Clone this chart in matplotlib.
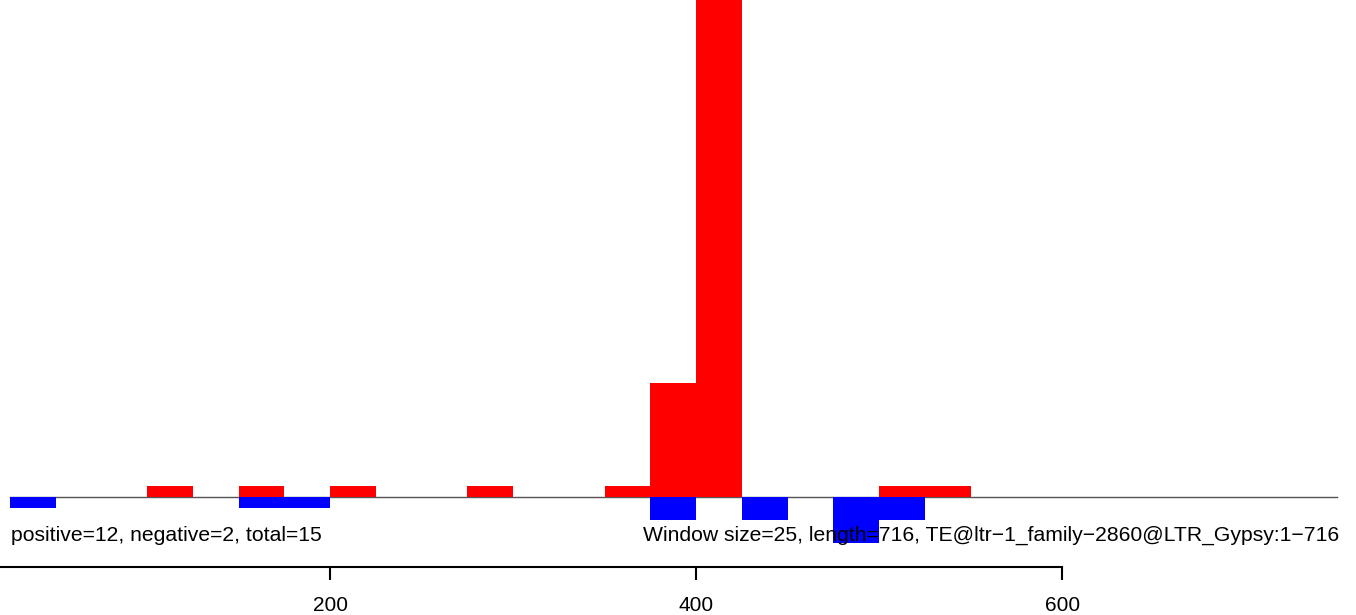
import numpy as np
import matplotlib
matplotlib.use("Agg")
import matplotlib.pyplot as plt

# ==========================================
# Data (window size 25, bins start at 25)
# ==========================================

WINDOW = 25
window_starts = [25, 50, 75, 100, 125, 150, 175, 200, 225, 250,
                 275, 300, 325, 350, 375, 400, 425, 450, 475, 500,
                 525, 550, 575, 600, 625, 650, 675, 700, 725]

positive_counts = [0, 0, 0, 1, 0, 1, 0, 1, 0, 0,
                   1, 0, 0, 1, 10, 60, 0, 0, 0, 1,
                   1, 0, 0, 0, 0, 0, 0, 0, 0]

negative_counts = [1, 0, 0, 0, 0, 1, 1, 0, 0, 0,
                   0, 0, 0, 0, 2, 0, 2, 0, 4, 2,
                   0, 0, 0, 0, 0, 0, 0, 0, 0]

axis_ticks = [0, 200, 400, 600]
left_label = "positive=12, negative=2, total=15"
right_label = "Window size=25, length=716, TE@ltr\u22121_family\u22122860@LTR_Gypsy:1\u2212716"

# ==========================================
# Plot
# ==========================================

plt.rcParams['font.family'] = ['Liberation Sans', 'DejaVu Sans']

fig = plt.figure(figsize=(13.56, 6.15), dpi=100)
ax = fig.add_axes([0, 0, 1, 1])

ax.bar(window_starts, positive_counts, width=WINDOW, align="edge",
       color="#FF0000", linewidth=0, zorder=2)
ax.bar(window_starts, [-v for v in negative_counts], width=WINDOW, align="edge",
       color="#0000FF", linewidth=0, zorder=2)

# baseline over the windows
ax.plot([window_starts[0], window_starts[-1] + WINDOW], [0, 0],
        color="#555555", linewidth=1, zorder=1)

# bottom axis R style
for side in ["top", "right", "left"]:
    ax.spines[side].set_visible(False)
ax.spines["bottom"].set_position(("data", -6.14))
ax.spines["bottom"].set_bounds(axis_ticks[0], axis_ticks[-1])
ax.spines["bottom"].set_linewidth(1.5)
ax.set_xticks(axis_ticks)
ax.tick_params(axis="x", length=9.4, width=1.5, pad=11.5, labelsize=15)
ax.set_yticks([])

# limits after ticks so the 0 tick stays off screen
ax.set_xlim(19.6, 760.6)
ax.set_ylim(-10.35, 43.6)

ax.text(25.5, -3.4, left_label, ha="left", va="center", fontsize=15.2, zorder=5)
ax.text(751.5, -3.4, right_label, ha="right", va="center", fontsize=15.2, zorder=5)

fig.savefig("out.png", dpi=100)
